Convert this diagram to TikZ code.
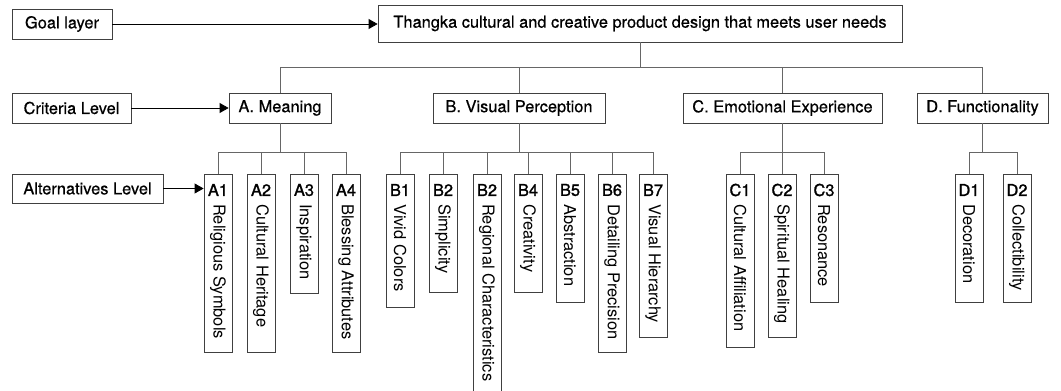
\documentclass[tikz,border=0pt]{standalone}
\usepackage{fontspec}
\setmainfont{TeX Gyre Heros}
% slightly heavier cuts for box titles and item codes
\newfontfamily\titlefont[FakeBold=0.6]{TeX Gyre Heros}
\newfontfamily\codefont[FakeBold=1.4]{TeX Gyre Heros}
\usetikzlibrary{arrows.meta}

% one vertical leaf box: name, centre x, bottom y, code, rotated caption
\newcommand\leafbox[5]{%
  \node[leaf, minimum height=#3-174] (#1) at (#2,174) {};
  \node[leafcode] (#1code) at (#2,190) {#4};
  \node[leaftext] (#1text) at (#2,204) {#5};
}

\begin{document}
\begin{tikzpicture}[x=1pt,y=-1pt,
  every node/.style={font=\fontsize{16.4}{19}\selectfont},
  box/.style={draw=black!75, line width=0.8pt, inner sep=0pt, minimum height=30,
    font=\titlefont\fontsize{16.4}{19}\selectfont},
  leaf/.style={draw=black!75, line width=0.8pt, inner sep=0pt, minimum width=28, anchor=north},
  leafcode/.style={inner sep=0pt, font=\codefont\fontsize{16.4}{19}\selectfont},
  leaftext/.style={inner sep=0pt, rotate=-90, anchor=west},
  link/.style={draw=black!60, line width=0.8pt},
  pointer/.style={draw=black, line width=0.8pt, -{Triangle[length=9pt,width=10pt]}},
]
\useasboundingbox (0,0) rectangle (1061,391);

% level captions
\node[box, minimum width=100] (goallbl) at (62,24) {Goal layer};
\node[box, minimum width=119] (critlbl) at (71.5,108) {Criteria Level};
\node[box, minimum width=151, minimum height=29] (altlbl) at (87.5,188.5) {Alternatives Level};

% goal
\node[box, minimum width=524, minimum height=37] (goal) at (640,23.5)
  {Thangka cultural and creative product design that meets user needs};

% criteria
\node[box, minimum width=102] (A) at (280,108) {A. Meaning};
\node[box, minimum width=172] (B) at (519,108) {B. Visual Perception};
\node[box, minimum width=199] (C) at (782.5,108) {C. Emotional Experience};
\node[box, minimum width=131] (D) at (982.5,108) {D. Functionality};

% alternatives
\leafbox{A1}{218}{352}{A1}{Religious Symbols}
\leafbox{A2}{261}{352}{A2}{Cultural Heritage}
\leafbox{A3}{304}{293}{A3}{Inspiration}
\leafbox{A4}{346}{352}{A4}{Blessing Attributes}

\leafbox{B1}{400}{307}{B1}{Vivid Colors}
\leafbox{B2}{443}{292}{B2}{Simplicity}
\leafbox{B3}{487}{400}{B2}{Regional Characteristics}
\leafbox{B4}{528}{292}{B4}{Creativity}
\leafbox{B5}{570}{302}{B5}{Abstraction}
\leafbox{B6}{612}{352}{B6}{Detailing Precision}
\leafbox{B7}{653}{337}{B7}{Visual Hierarchy}

\leafbox{C1}{740}{347}{C1}{Cultural Affiliation}
\leafbox{C2}{782}{337}{C2}{Spiritual Healing}
\leafbox{C3}{824}{302}{C3}{Resonance}

\leafbox{D1}{969}{302}{D1}{Decoration}
\leafbox{D2}{1017}{302}{D2}{Collectibility}

% tree connectors
\coordinate (trunk) at (640,67);
\coordinate (sub) at (0,152);
\draw[link] (goal.south) -- (trunk);
\draw[link] (A.north) -- (A.north |- trunk) -- (D.north |- trunk) -- (D.north);
\draw[link] (B.north) -- (B.north |- trunk);
\draw[link] (C.north) -- (C.north |- trunk);

\draw[link] (A.south) -- (A.south |- sub);
\draw[link] (A1.north) -- (A1.north |- sub) -- (A4.north |- sub) -- (A4.north);
\foreach \n in {A2,A3} \draw[link] (\n.north) -- (\n.north |- sub);

\draw[link] (B.south) -- (B.south |- sub);
\draw[link] (B1.north) -- (B1.north |- sub) -- (B7.north |- sub) -- (B7.north);
\foreach \n in {B2,B3,B4,B5,B6} \draw[link] (\n.north) -- (\n.north |- sub);

\draw[link] (C.south) -- (C.south |- sub);
\draw[link] (C1.north) -- (C1.north |- sub) -- (C3.north |- sub) -- (C3.north);
\draw[link] (C2.north) -- (C2.north |- sub);

\draw[link] (D.south) -- (D.south |- sub);
\draw[link] (D1.north) -- (D1.north |- sub) -- (D2.north |- sub) -- (D2.north);

% level pointers
\draw[pointer] (goallbl.east) -- (goallbl.east -| goal.west);
\draw[pointer] (critlbl.east) -- (A.west);
\draw[pointer] (altlbl.east) -- (altlbl.east -| A1.west);
\end{tikzpicture}
\end{document}
